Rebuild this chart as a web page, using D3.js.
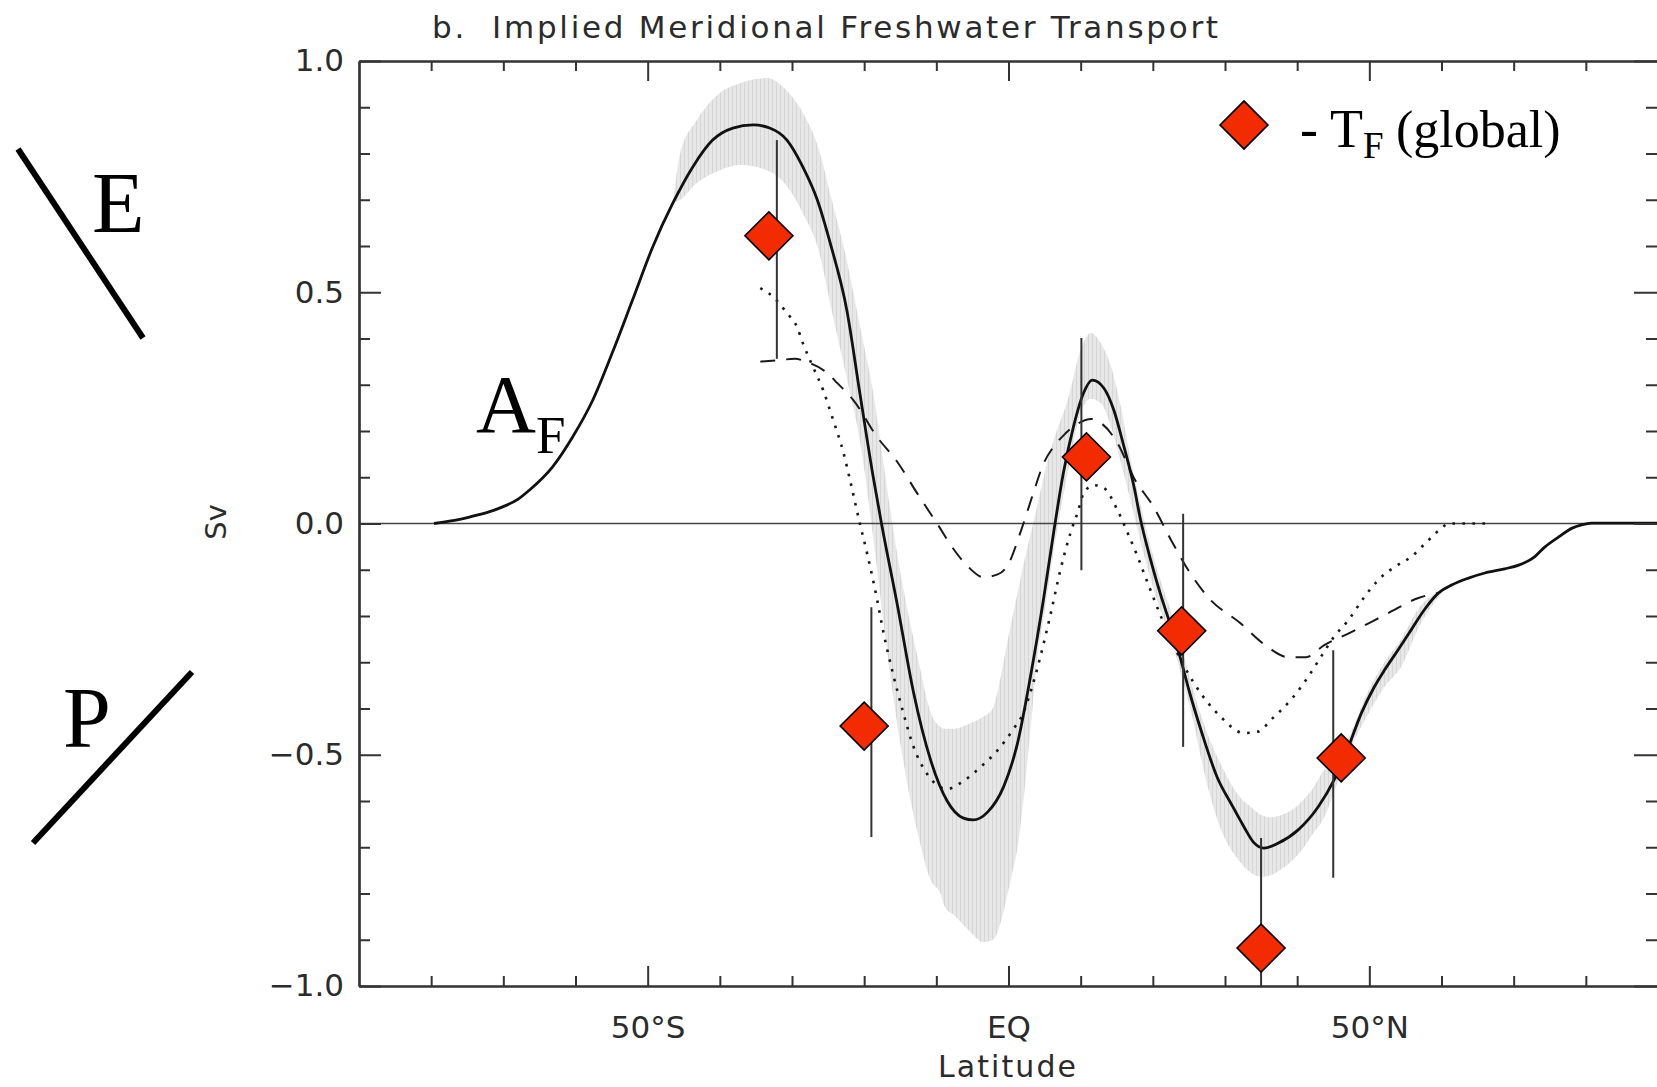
<!DOCTYPE html>
<html>
<head>
<meta charset="utf-8">
<script src="https://cdn.jsdelivr.net/npm/d3@7"></script>
<style>
  html, body { margin: 0; padding: 0; background: #fff; }
  svg { display: block; }
</style>
</head>
<body>
<svg id="chart" width="1657" height="1087"></svg>
<script>
// ---- axis ticks -------------------------------------------------------
const latMajorTicks = [-50, 0, 50];
const latMajorLabels = ["50°S", "EQ", "50°N"];
const latMinorTicks = [-80, -70, -60, -40, -30, -20, -10, 10, 20, 30, 40, 60, 70, 80];
const svMajorTicks = [-1, -0.5, 0, 0.5, 1];
const svMajorLabels = ["\u22121.0", "\u22120.5", "0.0", "0.5", "1.0"];
const svMinorTicks = [-0.9, -0.8, -0.7, -0.6, -0.4, -0.3, -0.2, -0.1, 0.1, 0.2, 0.3, 0.4, 0.6, 0.7, 0.8, 0.9];

// ---- implied freshwater transport A_F  [latitude, Sv] ------------------
const afCurve = [
  [-79.6, 0], [-77, 0.006], [-74.7, 0.014], [-72, 0.025], [-70.1, 0.036], [-68, 0.052],
  [-66.4, 0.072], [-63.2, 0.122], [-60.4, 0.187], [-57.6, 0.267], [-54.9, 0.369],
  [-52.1, 0.483], [-49.3, 0.598], [-46.5, 0.693], [-43.75, 0.771], [-41, 0.829],
  [-38.2, 0.855], [-35.4, 0.862], [-33.1, 0.855], [-30.7, 0.829], [-28.5, 0.771],
  [-26.5, 0.70], [-24.7, 0.606], [-22.4, 0.461], [-20.6, 0.282], [-18.75, 0.101],
  [-17.6, 0], [-15.4, -0.176], [-13.2, -0.362], [-10.8, -0.511], [-8.5, -0.6],
  [-6.25, -0.637], [-4.9, -0.641], [-2.9, -0.624], [-0.7, -0.57], [1.25, -0.475],
  [3.1, -0.326], [4.9, -0.159], [6.25, -0.02], [7.6, 0.109], [9.0, 0.209], [10.4, 0.282],
  [11.6, 0.31], [13.2, 0.293], [14.6, 0.245], [16.0, 0.166], [17.4, 0.079], [18.3, 0.008],
  [19.7, -0.079], [21.1, -0.155], [22.5, -0.222], [23.8, -0.29], [25.0, -0.36],
  [26.8, -0.453], [28.9, -0.548], [31.0, -0.61], [32.6, -0.655], [34.0, -0.69],
  [35.4, -0.702], [37.4, -0.691], [40.1, -0.663], [42.9, -0.613], [45.1, -0.555],
  [47.1, -0.483], [48.9, -0.41], [50.7, -0.353], [52.1, -0.317], [54.0, -0.273],
  [55.8, -0.23], [57.6, -0.187], [59.6, -0.15], [61.4, -0.133], [63.75, -0.118],
  [66.0, -0.107], [68.75, -0.098], [70.7, -0.09], [72.9, -0.072], [74.3, -0.051],
  [76.25, -0.029], [78.1, -0.01], [79.4, -0.003], [80.8, 0.001], [90, 0.001]
];

// ---- uncertainty range of A_F  [latitude, low, high] -------------------
const afRange = [
  [-46.5, 0.693, 0.693], [-45.5, 0.70, 0.80], [-43.2, 0.736, 0.872], [-40, 0.764, 0.931],
  [-37.2, 0.775, 0.952], [-33.5, 0.764, 0.963], [-31, 0.735, 0.940], [-28.5, 0.671, 0.888],
  [-26.3, 0.59, 0.81], [-24.5, 0.46, 0.70], [-22.5, 0.32, 0.575], [-20.5, 0.17, 0.42],
  [-18.75, -0.03, 0.282], [-17.5, -0.19, 0.15], [-16.2, -0.35, 0.01], [-14.6, -0.512, -0.139],
  [-12.5, -0.675, -0.295], [-10.8, -0.771, -0.408], [-9.4, -0.801, -0.44], [-8.8, -0.83, -0.444],
  [-7.6, -0.846, -0.444], [-5.3, -0.883, -0.432], [-3.5, -0.905, -0.418], [-2.2, -0.90, -0.40],
  [-1.5, -0.883, -0.362], [-0.7, -0.84, -0.30], [0.3, -0.771, -0.22], [1.25, -0.70, -0.15],
  [2.2, -0.58, -0.08], [3.1, -0.436, -0.02], [4.0, -0.289, 0.04], [5.0, -0.19, 0.11],
  [6.25, -0.06, 0.18], [8.2, 0.11, 0.267], [10, 0.24, 0.375], [11.4, 0.27, 0.412],
  [12.8, 0.26, 0.39], [14.2, 0.21, 0.34], [15.6, 0.13, 0.25], [16.9, 0.05, 0.14],
  [18.3, -0.04, 0.04], [19.7, -0.12, -0.05], [21.1, -0.19, -0.125], [22.5, -0.25, -0.19],
  [24, -0.33, -0.27], [25.5, -0.42, -0.355], [27, -0.53, -0.43], [29.4, -0.66, -0.52],
  [32, -0.73, -0.59], [33.6, -0.755, -0.613], [35, -0.764, -0.63], [36.4, -0.76, -0.635],
  [38.2, -0.743, -0.628], [39.2, -0.73, -0.62], [41, -0.699, -0.595], [42, -0.675, -0.577],
  [43.75, -0.635, -0.533], [45.7, -0.555, -0.51], [47.5, -0.483, -0.45], [49.9, -0.41, -0.36],
  [52.1, -0.353, -0.30], [54.4, -0.31, -0.25], [57, -0.22, -0.18], [60, -0.15, -0.145]
];

// ---- comparison estimates  [latitude, Sv] -----------------------------
const dashedCurve = [
  [-34.4, 0.35], [-32, 0.353], [-29.6, 0.356], [-27.9, 0.349], [-25.1, 0.325], [-23.75, 0.304],
  [-21.5, 0.267], [-18.2, 0.187], [-15.4, 0.133], [-12.6, 0.064], [-9.9, 0.0], [-7.4, -0.06],
  [-5.5, -0.095], [-3.5, -0.116], [-1.5, -0.11], [-0.1, -0.09], [1.7, -0.017], [3.4, 0.064],
  [4.9, 0.131], [6.2, 0.165], [7.6, 0.19], [9.5, 0.215], [11.5, 0.226], [13, 0.215],
  [15.1, 0.174], [17.4, 0.098], [20.1, 0.036], [22.5, -0.035], [25, -0.103], [27.8, -0.162],
  [32.1, -0.215], [35.5, -0.262], [38.75, -0.289], [41.25, -0.289], [43.75, -0.263],
  [47.5, -0.235], [52.6, -0.194], [56.8, -0.161], [59.6, -0.15]
];
const dottedCurve = [
  [-34.4, 0.509], [-32.6, 0.49], [-30.7, 0.455], [-29.3, 0.425], [-28.5, 0.39], [-27.1, 0.339],
  [-25.7, 0.289], [-24.3, 0.224], [-22.9, 0.155], [-21.9, 0.09], [-20.6, 0.0], [-19.6, -0.064],
  [-18.2, -0.165], [-17.4, -0.23], [-16, -0.325], [-14.6, -0.408], [-13.2, -0.481],
  [-11.25, -0.542], [-8.5, -0.574], [-6.25, -0.557], [-3.9, -0.527], [-1.5, -0.49],
  [0.7, -0.444], [2.1, -0.408], [3.1, -0.362], [4.4, -0.289], [5.8, -0.198], [7.2, -0.1],
  [8.6, -0.02], [9.6, 0.025], [10.4, 0.065], [11.8, 0.083], [13.2, 0.077], [15.1, 0.029],
  [16.5, -0.02], [17.9, -0.072], [19.3, -0.129], [22.1, -0.237], [25.7, -0.345],
  [29.4, -0.418], [32.6, -0.453], [34.6, -0.45], [36.4, -0.424], [39.2, -0.38],
  [41.5, -0.332], [43.3, -0.288], [45.1, -0.245], [47.1, -0.209], [49.3, -0.159],
  [51.25, -0.122], [53.5, -0.094], [55.8, -0.072], [58.2, -0.036], [60, -0.01], [61, 0], [66.5, 0]
];

// ---- -T_F (global) estimates and their error bars ---------------------
const tfLat = [-33.2, -20.0, 10.8, 24.0, 35.0, 46.1];
const tfSv = [0.622, -0.438, 0.144, -0.232, -0.918, -0.507];
const errLat = [-32.1, -19.0, 10.1, 24.2, 35.0, 45.0];
const errLo = [0.356, -0.678, -0.101, -0.483, -1.17, -0.766];
const errHi = [0.829, -0.181, 0.401, 0.021, -0.680, -0.274];

// ---- drawing ----------------------------------------------------------
const svg = d3.select("#chart");
const x = d3.scaleLinear().domain([-90, 90]).range([359, 1658]);
const y = d3.scaleLinear().domain([-1, 1]).range([986, 61]);
const axisFont = "'DejaVu Sans', sans-serif";
const serif = "'Liberation Serif', 'Times New Roman', serif";
const ink = "#2b2b2b";

const defs = svg.append("defs");
defs.append("clipPath").attr("id", "plotClip")
  .append("rect")
  .attr("x", x(-90)).attr("y", y(1))
  .attr("width", x(90) - x(-90)).attr("height", y(-1) - y(1));

// faint vertical hatching used for the uncertainty range
const hatch = defs.append("pattern").attr("id", "hatch")
  .attr("patternUnits", "userSpaceOnUse").attr("width", 4).attr("height", 8);
hatch.append("rect").attr("width", 4).attr("height", 8).attr("fill", "#e7e7e7");
hatch.append("rect").attr("width", 1).attr("height", 8).attr("fill", "#d6d6d6");

const plot = svg.append("g").attr("clip-path", "url(#plotClip)");

plot.append("path")
  .datum(afRange)
  .attr("fill", "url(#hatch)")
  .attr("d", d3.area()
    .x(d => x(d[0])).y0(d => y(d[1])).y1(d => y(d[2]))
    .curve(d3.curveMonotoneX));

// zero line
plot.append("line")
  .attr("x1", x(-90)).attr("x2", x(90))
  .attr("y1", y(0)).attr("y2", y(0))
  .attr("stroke", "#444").attr("stroke-width", 1.6);

const line = d3.line().x(d => x(d[0])).y(d => y(d[1])).curve(d3.curveMonotoneX);

plot.append("path").datum(dashedCurve)
  .attr("fill", "none").attr("stroke", "#1a1a1a").attr("stroke-width", 2)
  .attr("stroke-dasharray", "15,11").attr("d", line);

plot.append("path").datum(dottedCurve)
  .attr("fill", "none").attr("stroke", "#1a1a1a").attr("stroke-width", 2.6)
  .attr("stroke-dasharray", "2.6,7.4").attr("d", line);

plot.append("path").datum(afCurve)
  .attr("fill", "none").attr("stroke", "#111").attr("stroke-width", 2.8)
  .attr("stroke-linejoin", "round").attr("d", line);

// error bars
plot.selectAll("line.err")
  .data(errLat.map((lat, i) => ({ lat, lo: errLo[i], hi: errHi[i] })))
  .join("line").attr("class", "err")
  .attr("x1", d => x(d.lat)).attr("x2", d => x(d.lat))
  .attr("y1", d => y(d.hi)).attr("y2", d => y(d.lo))
  .attr("stroke", "#333").attr("stroke-width", 2);

// diamonds
const diamond = d3.symbol(d3.symbolSquare, 1152);
const red = "#f32b00";
plot.selectAll("path.tf")
  .data(tfLat.map((lat, i) => ({ lat, v: tfSv[i] })))
  .join("path").attr("class", "tf")
  .attr("d", diamond)
  .attr("transform", d => `translate(${x(d.lat)},${y(d.v)}) rotate(45)`)
  .attr("fill", red).attr("stroke", "#000").attr("stroke-width", 1.6);

// ---- axes -------------------------------------------------------------
function styleAxis(g) {
  g.select(".domain").attr("stroke", "#333").attr("stroke-width", 2.2);
  g.selectAll(".tick line").attr("stroke", "#333").attr("stroke-width", 2);
  g.selectAll("text").attr("font-family", axisFont).attr("font-size", 31).attr("fill", ink);
}
const yb = y(-1), yt = y(1), xl = x(-90), xr = x(90);

svg.append("g").attr("transform", `translate(0,${yb})`)
  .call(d3.axisBottom(x).tickValues(latMinorTicks).tickSize(-10).tickSizeOuter(0).tickFormat(""))
  .call(styleAxis);
svg.append("g").attr("transform", `translate(0,${yb})`)
  .call(d3.axisBottom(x).tickValues(latMajorTicks).tickSize(-20).tickSizeOuter(0)
    .tickPadding(30).tickFormat((d, i) => latMajorLabels[i]))
  .call(styleAxis);
svg.append("g").attr("transform", `translate(0,${yt})`)
  .call(d3.axisTop(x).tickValues(latMinorTicks).tickSize(-10).tickSizeOuter(0).tickFormat(""))
  .call(styleAxis);
svg.append("g").attr("transform", `translate(0,${yt})`)
  .call(d3.axisTop(x).tickValues(latMajorTicks).tickSize(-20).tickSizeOuter(0).tickFormat(""))
  .call(styleAxis);

svg.append("g").attr("transform", `translate(${xl},0)`)
  .call(d3.axisLeft(y).tickValues(svMinorTicks).tickSize(-11).tickSizeOuter(0).tickFormat(""))
  .call(styleAxis);
svg.append("g").attr("transform", `translate(${xl},0)`)
  .call(d3.axisLeft(y).tickValues(svMajorTicks).tickSize(-22).tickSizeOuter(0)
    .tickPadding(15).tickFormat((d, i) => svMajorLabels[i]))
  .call(styleAxis);
svg.append("g").attr("transform", `translate(${xr},0)`)
  .call(d3.axisRight(y).tickValues(svMinorTicks).tickSize(-12).tickSizeOuter(0).tickFormat(""))
  .call(styleAxis);
svg.append("g").attr("transform", `translate(${xr},0)`)
  .call(d3.axisRight(y).tickValues(svMajorTicks).tickSize(-24).tickSizeOuter(0).tickFormat(""))
  .call(styleAxis);

// ---- titles -----------------------------------------------------------
svg.append("text")
  .attr("x", 432).attr("y", 38)
  .attr("font-family", axisFont).attr("font-size", 31).attr("fill", ink)
  .attr("textLength", 786).attr("lengthAdjust", "spacing")
  .style("white-space", "pre")
  .text("b.  Implied Meridional Freshwater Transport");

svg.append("text")
  .attr("x", 1007).attr("y", 1077).attr("text-anchor", "middle")
  .attr("font-family", axisFont).attr("font-size", 30).attr("fill", ink)
  .attr("textLength", 138).attr("lengthAdjust", "spacing")
  .text("Latitude");

svg.append("text")
  .attr("transform", "translate(226,522) rotate(-90)")
  .attr("text-anchor", "middle")
  .attr("font-family", axisFont).attr("font-size", 29).attr("fill", ink)
  .text("Sv");

// ---- legend -----------------------------------------------------------
svg.append("path").attr("d", diamond)
  .attr("transform", "translate(1244,125) rotate(45)")
  .attr("fill", red).attr("stroke", "#000").attr("stroke-width", 1.6);
const leg = svg.append("g").attr("font-family", serif).attr("fill", "#000");
leg.append("text").attr("x", 1300).attr("y", 147).attr("font-size", 54).text("-");
leg.append("text").attr("x", 1330).attr("y", 147).attr("font-size", 54).text("T");
leg.append("text").attr("x", 1363).attr("y", 158).attr("font-size", 37).text("F");
leg.append("text").attr("x", 1396).attr("y", 147).attr("font-size", 52).text("(global)");

// ---- annotations: evaporation / precipitation, A_F --------------------
const ann = svg.append("g").attr("font-family", serif).attr("fill", "#000");
ann.append("text").attr("x", 92).attr("y", 232).attr("font-size", 86).text("E");
ann.append("text").attr("x", 63).attr("y", 747).attr("font-size", 86).text("P");
ann.append("text").attr("x", 476).attr("y", 432).attr("font-size", 83).text("A");
ann.append("text").attr("x", 536).attr("y", 453).attr("font-size", 53).text("F");
svg.append("line").attr("x1", 18).attr("y1", 149).attr("x2", 143).attr("y2", 338)
  .attr("stroke", "#000").attr("stroke-width", 6);
svg.append("line").attr("x1", 33).attr("y1", 843).attr("x2", 192).attr("y2", 672)
  .attr("stroke", "#000").attr("stroke-width", 6);
</script>
</body>
</html>
